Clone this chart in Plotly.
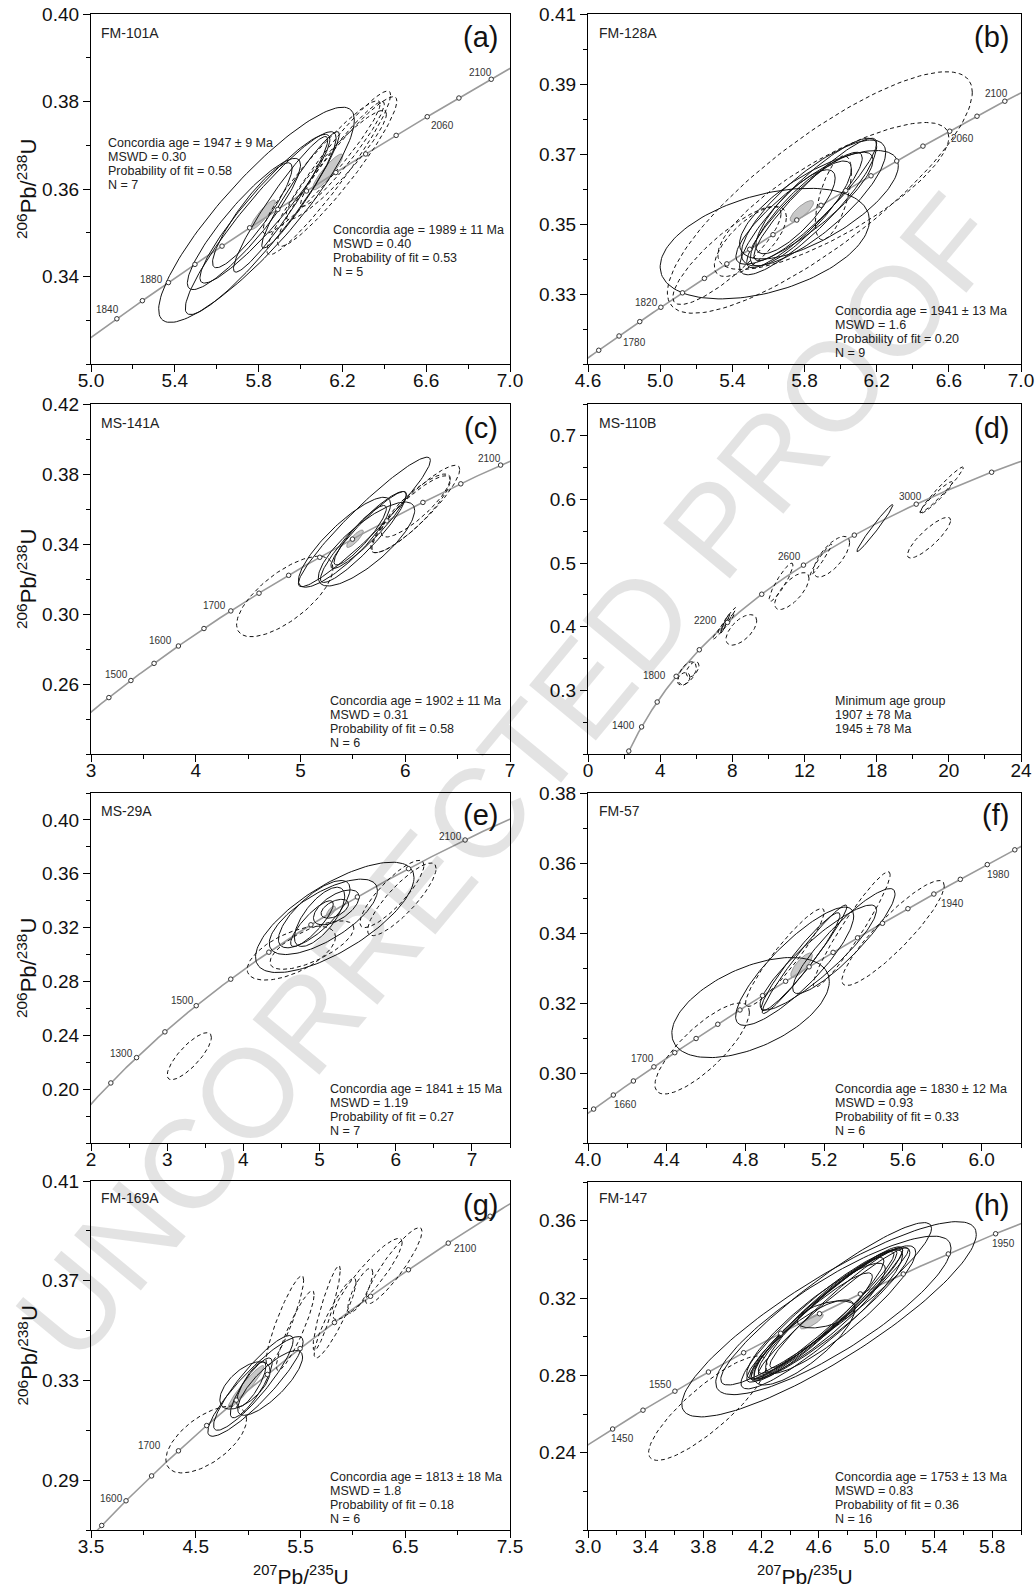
import numpy as np
import plotly.graph_objects as go

W, H = 1035, 1591
LAMBDA_238 = 1.55125e-10
LAMBDA_235 = 9.8485e-10

# ------------------------------------------------------------------ data
# concordia age ticks (Ma) and labelled ages
a_ages = [1840, 1860, 1880, 1900, 1920, 1940, 1960, 1980, 2000, 2020, 2040, 2060, 2080, 2100]
b_ages = [1760, 1780, 1800, 1820, 1840, 1860, 1880, 1900, 1920, 1940, 1960, 1980, 2000, 2020, 2040, 2060, 2080, 2100]
c_ages = [1450, 1500, 1550, 1600, 1650, 1700, 1750, 1800, 1850, 1900, 1950, 2000, 2050, 2100]
d_ages = [1200, 1400, 1600, 1800, 2000, 2200, 2400, 2600, 2800, 3000, 3200]
e_ages = [1200, 1300, 1400, 1500, 1600, 1700, 1800, 1900, 2000, 2100]
f_ages = [1640, 1660, 1680, 1700, 1720, 1740, 1760, 1780, 1800, 1820, 1840, 1860, 1880, 1900, 1920, 1940, 1960, 1980, 2000]
g_ages = [1550, 1600, 1650, 1700, 1750, 1800, 1850, 1900, 1950, 2000, 2050, 2100, 2150]
h_ages = [1450, 1500, 1550, 1600, 1650, 1700, 1750, 1800, 1850, 1900, 1950]

a_labels = [1840, 1880, 2060, 2100]
b_labels = [1780, 1820, 2060, 2100]
c_labels = [1500, 1600, 1700, 2100]
d_labels = [1400, 1800, 2200, 2600, 3000]
e_labels = [1300, 1500, 2100]
f_labels = [1660, 1700, 1940, 1980]
g_labels = [1600, 1700, 2100]
h_labels = [1450, 1550, 1950]

# error ellipses: (207Pb/235U, 206Pb/238U, half-width x, half-height y, rho)
a_solid = [(5.79, 0.3541, 0.467, 0.0246, 0.88), (5.81, 0.3522, 0.360, 0.0209, 0.93),
           (5.83, 0.3555, 0.310, 0.0170, 0.93), (5.77, 0.3540, 0.190, 0.0120, 0.90),
           (5.905, 0.3565, 0.225, 0.0155, 0.95), (6.00, 0.3598, 0.185, 0.0133, 0.95),
           (5.73, 0.3520, 0.270, 0.0150, 0.90)]
a_dashed = [(6.135, 0.3637, 0.295, 0.0187, 0.95), (6.175, 0.3640, 0.285, 0.0171, 0.94),
            (6.10, 0.3650, 0.280, 0.0152, 0.95), (6.17, 0.3655, 0.240, 0.0125, 0.93),
            (6.20, 0.3680, 0.200, 0.0120, 0.95)]
a_gray = [(5.82, 0.3541, 0.060, 0.0034, 0.90), (6.13, 0.3639, 0.072, 0.0041, 0.90)]

b_solid = [(5.58, 0.3444, 0.58, 0.0158, 0.42), (5.82, 0.3550, 0.38, 0.0195, 0.88),
           (5.85, 0.3560, 0.40, 0.0180, 0.80), (5.88, 0.3555, 0.44, 0.0155, 0.72),
           (5.80, 0.3540, 0.32, 0.0165, 0.90), (5.78, 0.3530, 0.28, 0.0150, 0.85),
           (5.75, 0.3535, 0.22, 0.0120, 0.80), (5.86, 0.3570, 0.34, 0.0175, 0.92),
           (5.80, 0.3545, 0.38, 0.0160, 0.86)]
b_dashed = [(5.885, 0.3590, 0.845, 0.0345, 0.83), (5.96, 0.3580, 0.640, 0.0210, 0.80),
            (5.37, 0.3410, 0.300, 0.0140, 0.85), (5.96, 0.3575, 0.100, 0.0120, 0.60),
            (5.50, 0.3450, 0.200, 0.0100, 0.70)]
b_gray = [(5.785, 0.3537, 0.065, 0.0030, 0.80)]

c_solid = [(5.61, 0.3526, 0.63, 0.0370, 0.95), (5.42, 0.3410, 0.44, 0.0257, 0.85),
           (5.63, 0.3400, 0.46, 0.0240, 0.80), (5.60, 0.3440, 0.41, 0.0260, 0.92),
           (5.57, 0.3450, 0.25, 0.0170, 0.90), (5.65, 0.3480, 0.36, 0.0220, 0.93)]
c_dashed = [(4.85, 0.3100, 0.46, 0.0230, 0.70), (6.10, 0.3600, 0.42, 0.0250, 0.90),
            (6.05, 0.3570, 0.38, 0.0220, 0.88), (6.10, 0.3620, 0.33, 0.0180, 0.85)]
c_gray = [(5.52, 0.3430, 0.08, 0.0050, 0.85)]

d_solid = [(15.9, 0.5550, 1.00, 0.0370, 0.98), (7.6, 0.4050, 0.25, 0.0150, 0.95)]
d_dashed = [(5.5, 0.3270, 0.50, 0.0180, 0.50), (5.8, 0.3330, 0.35, 0.0120, 0.50),
            (5.3, 0.3180, 0.35, 0.0100, 0.30), (7.5, 0.4000, 0.60, 0.0200, 0.97),
            (7.7, 0.4100, 0.50, 0.0200, 0.97), (8.5, 0.3950, 0.85, 0.0240, 0.60),
            (10.7, 0.4700, 0.66, 0.0300, 0.90), (11.3, 0.4560, 0.95, 0.0290, 0.70),
            (13.5, 0.5100, 1.00, 0.0320, 0.70), (12.9, 0.5050, 0.60, 0.0250, 0.97),
            (19.6, 0.6150, 1.20, 0.0360, 0.97), (19.3, 0.6030, 0.90, 0.0250, 0.95),
            (18.9, 0.5400, 1.20, 0.0320, 0.85)]
d_gray = []

e_solid = [(5.20, 0.3276, 1.04, 0.0410, 0.72), (5.05, 0.3280, 0.71, 0.0280, 0.70),
           (4.93, 0.3300, 0.47, 0.0250, 0.75), (5.00, 0.3280, 0.33, 0.0220, 0.70),
           (5.22, 0.3350, 0.30, 0.0130, 0.60), (5.20, 0.3340, 0.18, 0.0070, 0.50),
           (4.90, 0.3230, 0.28, 0.0170, 0.85)]
e_dashed = [(4.63, 0.3010, 0.58, 0.0200, 0.60), (4.90, 0.3070, 0.55, 0.0180, 0.70),
            (6.08, 0.3410, 0.45, 0.0270, 0.85), (5.95, 0.3450, 0.42, 0.0250, 0.85),
            (3.29, 0.2245, 0.29, 0.0175, 0.80)]
e_gray = [(5.15, 0.3320, 0.06, 0.0040, 0.70)]

f_solid = [(4.826, 0.3187, 0.40, 0.0143, 0.52), (5.05, 0.3305, 0.30, 0.0169, 0.85),
           (5.17, 0.3330, 0.296, 0.0150, 0.90), (5.08, 0.3318, 0.20, 0.0140, 0.95),
           (5.30, 0.3377, 0.26, 0.0150, 0.90), (5.10, 0.3325, 0.215, 0.0155, 0.97)]
f_dashed = [(4.58, 0.3070, 0.24, 0.0130, 0.80), (5.00, 0.3330, 0.20, 0.0140, 0.93),
            (5.34, 0.3410, 0.195, 0.0165, 0.95), (5.55, 0.3400, 0.26, 0.0150, 0.90)]
f_gray = [(5.085, 0.3308, 0.055, 0.0035, 0.80)]

g_solid = [(5.07, 0.3276, 0.455, 0.0200, 0.90), (5.05, 0.3290, 0.380, 0.0190, 0.90),
           (5.21, 0.3290, 0.310, 0.0130, 0.80), (4.97, 0.3280, 0.240, 0.0095, 0.60),
           (5.03, 0.3270, 0.200, 0.0120, 0.85), (5.03, 0.3285, 0.140, 0.0090, 0.80)]
g_dashed = [(4.60, 0.3063, 0.385, 0.0134, 0.60), (5.35, 0.3540, 0.180, 0.0180, 0.90),
            (5.45, 0.3500, 0.180, 0.0160, 0.90), (5.75, 0.3590, 0.130, 0.0170, 0.90),
            (6.07, 0.3660, 0.120, 0.0090, 0.80), (6.14, 0.3707, 0.330, 0.0163, 0.90),
            (6.39, 0.3760, 0.270, 0.0153, 0.90), (5.83, 0.3550, 0.200, 0.0160, 0.90)]
g_gray = [(4.98, 0.3275, 0.17, 0.0085, 0.95)]

h_solid = [(4.67, 0.3090, 1.02, 0.0505, 0.87), (4.70, 0.3110, 0.815, 0.0410, 0.85),
           (4.65, 0.3170, 0.730, 0.0420, 0.93), (4.64, 0.3115, 0.540, 0.0350, 0.95),
           (4.62, 0.3110, 0.500, 0.0330, 0.96), (4.66, 0.3130, 0.480, 0.0320, 0.95),
           (4.60, 0.3100, 0.450, 0.0310, 0.94), (4.70, 0.3130, 0.520, 0.0330, 0.97),
           (4.68, 0.3120, 0.550, 0.0340, 0.93), (4.55, 0.3050, 0.420, 0.0280, 0.93),
           (4.65, 0.3115, 0.200, 0.0070, 0.50), (4.50, 0.2970, 0.350, 0.0220, 0.80),
           (4.75, 0.3140, 0.520, 0.0330, 0.90), (4.62, 0.3090, 0.560, 0.0360, 0.92),
           (4.58, 0.3080, 0.480, 0.0300, 0.90), (4.72, 0.3150, 0.460, 0.0310, 0.96)]
h_dashed = [(3.83, 0.2630, 0.41, 0.0270, 0.85)]
h_gray = [(4.55, 0.3080, 0.08, 0.0040, 0.80)]

# text
a_sample, b_sample, c_sample, d_sample = "FM-101A", "FM-128A", "MS-141A", "MS-110B"
e_sample, f_sample, g_sample, h_sample = "MS-29A", "FM-57", "FM-169A", "FM-147"
a_stats = ["Concordia age = 1947 ± 9 Ma", "MSWD = 0.30", "Probability of fit = 0.58", "N = 7"]
a_stats2 = ["Concordia age = 1989 ± 11 Ma", "MSWD = 0.40", "Probability of fit = 0.53", "N = 5"]
b_stats = ["Concordia age = 1941 ± 13 Ma", "MSWD = 1.6", "Probability of fit = 0.20", "N = 9"]
c_stats = ["Concordia age = 1902 ± 11 Ma", "MSWD = 0.31", "Probability of fit = 0.58", "N = 6"]
d_stats = ["Minimum age group", "1907 ± 78 Ma", "1945 ± 78 Ma"]
e_stats = ["Concordia age = 1841 ± 15 Ma", "MSWD = 1.19", "Probability of fit = 0.27", "N = 7"]
f_stats = ["Concordia age = 1830 ± 12 Ma", "MSWD = 0.93", "Probability of fit = 0.33", "N = 6"]
g_stats = ["Concordia age = 1813 ± 18 Ma", "MSWD = 1.8", "Probability of fit = 0.18", "N = 6"]
h_stats = ["Concordia age = 1753 ± 13 Ma", "MSWD = 0.83", "Probability of fit = 0.36", "N = 16"]
WATERMARK = "UNCORRECTED PROOF"

# tick values / labels
a_xticks = [5.0, 5.4, 5.8, 6.2, 6.6, 7.0]; a_xtext = ["5.0", "5.4", "5.8", "6.2", "6.6", "7.0"]
a_yticks = [0.34, 0.36, 0.38, 0.40]; a_ytext = ["0.34", "0.36", "0.38", "0.40"]
b_xticks = [4.6, 5.0, 5.4, 5.8, 6.2, 6.6, 7.0]; b_xtext = ["4.6", "5.0", "5.4", "5.8", "6.2", "6.6", "7.0"]
b_yticks = [0.33, 0.35, 0.37, 0.39, 0.41]; b_ytext = ["0.33", "0.35", "0.37", "0.39", "0.41"]
c_xticks = [3, 4, 5, 6, 7]; c_xtext = ["3", "4", "5", "6", "7"]
c_yticks = [0.26, 0.30, 0.34, 0.38, 0.42]; c_ytext = ["0.26", "0.30", "0.34", "0.38", "0.42"]
d_xticks = [0, 4, 8, 12, 16, 20, 24]; d_xtext = ["0", "4", "8", "12", "18", "20", "24"]
d_yticks = [0.3, 0.4, 0.5, 0.6, 0.7]; d_ytext = ["0.3", "0.4", "0.5", "0.6", "0.7"]
e_xticks = [2, 3, 4, 5, 6, 7]; e_xtext = ["2", "3", "4", "5", "6", "7"]
e_yticks = [0.20, 0.24, 0.28, 0.32, 0.36, 0.40]; e_ytext = ["0.20", "0.24", "0.28", "0.32", "0.36", "0.40"]
f_xticks = [4.0, 4.4, 4.8, 5.2, 5.6, 6.0]; f_xtext = ["4.0", "4.4", "4.8", "5.2", "5.6", "6.0"]
f_yticks = [0.30, 0.32, 0.34, 0.36, 0.38]; f_ytext = ["0.30", "0.32", "0.34", "0.36", "0.38"]
g_xticks = [3.5, 4.5, 5.5, 6.5, 7.5]; g_xtext = ["3.5", "4.5", "5.5", "6.5", "7.5"]
g_yticks = [0.29, 0.33, 0.37, 0.41]; g_ytext = ["0.29", "0.33", "0.37", "0.41"]
h_xticks = [3.0, 3.4, 3.8, 4.2, 4.6, 5.0, 5.4, 5.8]; h_xtext = ["3.0", "3.4", "3.8", "4.2", "4.6", "5.0", "5.4", "5.8"]
h_yticks = [0.24, 0.28, 0.32, 0.36]; h_ytext = ["0.24", "0.28", "0.32", "0.36"]

# ------------------------------------------------------------------ layout / style
G = globals()
KEYS = list("abcdefgh")
STYLE = {
    'a': dict(xd=(91, 510), yd=(14, 364), xr=(5.0, 7.0), yr=(0.32, 0.40), xm=0.2, ym=0.01),
    'b': dict(xd=(588, 1021), yd=(14, 364), xr=(4.6, 7.0), yr=(0.31, 0.41), xm=0.2, ym=0.01),
    'c': dict(xd=(91, 510), yd=(404, 754), xr=(3.0, 7.0), yr=(0.22, 0.42), xm=0.5, ym=0.02),
    'd': dict(xd=(588, 1021), yd=(404, 754), xr=(0.0, 24.0), yr=(0.20, 0.75), xm=2.0, ym=0.05),
    'e': dict(xd=(91, 510), yd=(793, 1143), xr=(2.0, 7.5), yr=(0.16, 0.42), xm=0.5, ym=0.02),
    'f': dict(xd=(588, 1021), yd=(793, 1143), xr=(4.0, 6.2), yr=(0.28, 0.38), xm=0.2, ym=0.01),
    'g': dict(xd=(91, 510), yd=(1181, 1530), xr=(3.5, 7.5), yr=(0.27, 0.41), xm=0.5, ym=0.02),
    'h': dict(xd=(588, 1021), yd=(1182, 1530), xr=(3.0, 6.0), yr=(0.20, 0.38), xm=0.2, ym=0.02),
}
TEXTPOS = {
    'a': dict(name=(99, 33), letter=(500, 37), stats=[(106, 143), (331, 230)]),
    'b': dict(name=(597, 33), letter=(1011, 37), stats=[(833, 311)]),
    'c': dict(name=(99, 423), letter=(500, 428), stats=[(328, 701)]),
    'd': dict(name=(597, 423), letter=(1011, 428), stats=[(833, 701)]),
    'e': dict(name=(99, 811), letter=(500, 815), stats=[(328, 1089)]),
    'f': dict(name=(597, 811), letter=(1011, 815), stats=[(833, 1089)]),
    'g': dict(name=(99, 1198), letter=(500, 1205), stats=[(328, 1477)]),
    'h': dict(name=(597, 1198), letter=(1011, 1205), stats=[(833, 1477)]),
}
LINE_STEP = 13.9
LABEL_SHIFT = {
    'a': {1840: (-9, 9), 1880: (-17, 3), 2060: (15, -9), 2100: (-11, 7)},
    'b': {1780: (15, -7), 1820: (-14, 5), 2060: (13, -7), 2100: (-8, 8)},
    'c': {1500: (-14, 6), 1600: (-18, 6), 1700: (-16, 5), 2100: (-11, 7)},
    'd': {1400: (-18, 1), 1800: (-22, 1), 2200: (-22, 2), 2600: (-14, 9), 3000: (-6, 8)},
    'e': {1300: (-15, 4), 1500: (-14, 5), 2100: (-15, 4)},
    'f': {1660: (12, -9), 1700: (-11, 8), 1940: (19, -9), 1980: (11, -10)},
    'g': {1600: (-15, 2), 1700: (-29, 5), 2100: (17, -5)},
    'h': {1450: (10, -9), 1550: (-14, 7), 1950: (8, -10)},
}
FONT = "Liberation Sans, Arial, Helvetica, sans-serif"
DASH = "4px,3px"


def px_x(p):
    return p / W


def px_y(p):
    return 1 - p / H


def ellipse_xy(cx, cy, dx, dy, rho, n=140):
    th = np.linspace(0, 2 * np.pi, n)
    x = cx + dx * np.cos(th)
    y = cy + dy * (rho * np.cos(th) + np.sqrt(1 - rho ** 2) * np.sin(th))
    return x, y


def ellipse_path(lst):
    xs, ys = [], []
    for e in lst:
        x, y = ellipse_xy(*e)
        xs += list(x) + [None]
        ys += list(y) + [None]
    return xs, ys


def concordia(ages_ma):
    t = np.asarray(ages_ma, dtype=float) * 1e6
    return np.exp(LAMBDA_235 * t) - 1, np.exp(LAMBDA_238 * t) - 1


fig = go.Figure()
annotations = []

for i, k in enumerate(KEYS):
    n = i + 1
    sfx = '' if n == 1 else str(n)
    xa, ya = 'x' + sfx, 'y' + sfx
    st = STYLE[k]

    for e in G[k + '_gray']:
        x, y = ellipse_xy(*e)
        fig.add_trace(go.Scatter(x=x, y=y, xaxis=xa, yaxis=ya, mode='lines', fill='toself',
                                 fillcolor='#c8c8c8', line=dict(color='#888888', width=0.8),
                                 hoverinfo='skip', showlegend=False))
    tc = np.linspace(900, 3600, 800)
    cx_, cy_ = concordia(tc)
    fig.add_trace(go.Scatter(x=cx_, y=cy_, xaxis=xa, yaxis=ya, mode='lines',
                             line=dict(color='#9a9a9a', width=1.6), hoverinfo='skip', showlegend=False))
    xs, ys = ellipse_path(G[k + '_dashed'])
    if xs:
        fig.add_trace(go.Scatter(x=xs, y=ys, xaxis=xa, yaxis=ya, mode='lines',
                                 line=dict(color='#111111', width=1, dash=DASH),
                                 hoverinfo='skip', showlegend=False))
    xs, ys = ellipse_path(G[k + '_solid'])
    if xs:
        fig.add_trace(go.Scatter(x=xs, y=ys, xaxis=xa, yaxis=ya, mode='lines',
                                 line=dict(color='#111111', width=1),
                                 hoverinfo='skip', showlegend=False))
    mx, my = concordia(G[k + '_ages'])
    fig.add_trace(go.Scatter(x=mx, y=my, xaxis=xa, yaxis=ya, mode='markers',
                             marker=dict(symbol='circle', size=4.5, color='white',
                                         line=dict(color='#333333', width=1)),
                             hoverinfo='skip', showlegend=False))
    for age in G[k + '_labels']:
        lx, ly = concordia([age])
        sx, sy = LABEL_SHIFT[k][age]
        annotations.append(dict(x=float(lx[0]), y=float(ly[0]), xref=xa, yref=ya, text=str(age),
                                showarrow=False, xshift=sx, yshift=sy,
                                font=dict(family=FONT, size=10, color='#333333')))

    axis_common = dict(showline=True, mirror=True, linecolor='black', linewidth=1.2,
                       ticks='outside', ticklen=7, tickwidth=1, tickcolor='black',
                       showgrid=False, zeroline=False, automargin=False,
                       tickfont=dict(family=FONT, size=19, color='#111111'))
    fig.update_layout(**{
        'xaxis' + sfx: dict(domain=[px_x(st['xd'][0]), px_x(st['xd'][1])], anchor=ya,
                            range=list(st['xr']), tickmode='array',
                            tickvals=G[k + '_xticks'], ticktext=G[k + '_xtext'],
                            ticklabelstandoff=-8,
                            minor=dict(tickmode='linear', tick0=st['xr'][0], dtick=st['xm'],
                                       ticks='outside', ticklen=4, tickwidth=1, tickcolor='black'),
                            **axis_common),
        'yaxis' + sfx: dict(domain=[px_y(st['yd'][1]), px_y(st['yd'][0])], anchor=xa,
                            range=list(st['yr']), tickmode='array',
                            tickvals=G[k + '_yticks'], ticktext=G[k + '_ytext'],
                            minor=dict(tickmode='linear', tick0=st['yr'][0], dtick=st['ym'],
                                       ticks='outside', ticklen=4, tickwidth=1, tickcolor='black'),
                            **axis_common),
    })

    tp = TEXTPOS[k]
    annotations.append(dict(x=px_x(tp['name'][0]), y=px_y(tp['name'][1]), xref='paper', yref='paper',
                            text=G[k + '_sample'], showarrow=False, xanchor='left', yanchor='middle',
                            font=dict(family=FONT, size=14, color='#222222')))
    annotations.append(dict(x=px_x(tp['letter'][0]), y=px_y(tp['letter'][1]), xref='paper', yref='paper',
                            text='(' + k + ')', showarrow=False, xanchor='right', yanchor='middle',
                            font=dict(family=FONT, size=29, color='#111111')))
    blocks = [G[k + '_stats']] + ([a_stats2] if k == 'a' else [])
    for lines, (sx0, sy0) in zip(blocks, tp['stats']):
        for j, line in enumerate(lines):
            annotations.append(dict(x=px_x(sx0), y=px_y(sy0 + j * LINE_STEP), xref='paper', yref='paper',
                                    text=line, showarrow=False, xanchor='left', yanchor='middle',
                                    font=dict(family=FONT, size=12.5, color='#222222')))

YTITLE = "<sup>206</sup>Pb/<sup>238</sup>U"
XTITLE = "<sup>207</sup>Pb/<sup>235</sup>U"
for k in ['a', 'c', 'e', 'g']:
    yc = (STYLE[k]['yd'][0] + STYLE[k]['yd'][1]) / 2
    annotations.append(dict(x=px_x(27), y=px_y(yc), xref='paper', yref='paper', text=YTITLE,
                            textangle=-90, showarrow=False, xanchor='center', yanchor='middle',
                            font=dict(family=FONT, size=22, color='#111111')))
for k in ['g', 'h']:
    xc = (STYLE[k]['xd'][0] + STYLE[k]['xd'][1]) / 2
    annotations.append(dict(x=px_x(xc), y=px_y(1575), xref='paper', yref='paper', text=XTITLE,
                            showarrow=False, xanchor='center', yanchor='middle',
                            font=dict(family=FONT, size=21, color='#111111')))

annotations.append(dict(x=px_x(509), y=px_y(778), xref='paper', yref='paper', text=WATERMARK,
                        textangle=-50.4, showarrow=False, xanchor='center', yanchor='middle',
                        font=dict(family=FONT, size=126, color='rgba(0,0,0,0.11)')))

fig.update_layout(width=W, height=H,
                  margin=dict(l=0, r=0, t=0, b=0, pad=0, autoexpand=False),
                  paper_bgcolor='white', plot_bgcolor='white', showlegend=False,
                  annotations=annotations)

fig.write_html("out.html", config={'displayModeBar': False},
               post_script="document.body.style.margin='0px';document.body.style.overflow='hidden';")
